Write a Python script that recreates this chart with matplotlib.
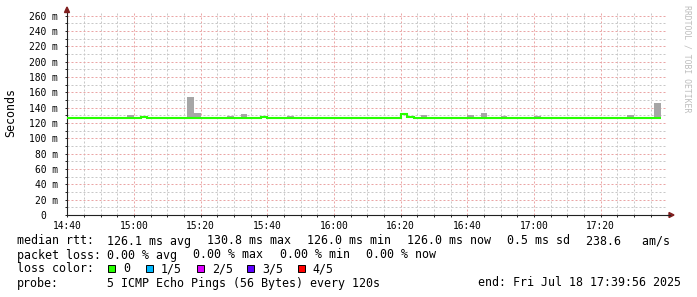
import numpy as np
import matplotlib.pyplot as plt
from matplotlib.patches import Polygon, Rectangle
from matplotlib.lines import Line2D
from matplotlib.ticker import MultipleLocator, FuncFormatter

# 2-minute steps, step 0 starts at 14:40 (x in minutes after 14:40)
n_steps = 89
median_base = 126.0                      # ms, flat median rtt
median_steps = [11, 29, 50, 51]          # steps where the median moves
median_vals = [127.3, 127.3, 131.3, 127.3]

# grey smoke: top of the ping spread per step (ms)
smoke_steps = [5, 9, 18, 19, 24, 26, 33, 43, 44, 48, 53, 60, 62, 65, 69, 70, 84, 85, 88]
smoke_tops = [128.2, 130.9, 154.4, 133.5, 129.5, 132.2, 129.3, 128.5, 128.5, 128.4,
              131.0, 131.0, 133.6, 129.5, 128.0, 129.5, 130.8, 128.0, 146.5]

time_labels = ['14:40', '15:00', '15:20', '15:40', '16:00', '16:20', '16:40', '17:00', '17:20']

rtt_items = ['126.1 ms avg', '130.8 ms max', '126.0 ms min', '126.0 ms now',
             '0.5 ms sd', '238.6   am/s']
loss_items = ['0.00 % avg', '0.00 % max', '0.00 % min', '0.00 % now']
loss_labels = ['0', '1/5', '2/5', '3/5', '4/5']
loss_colors = ['#26ff00', '#00b8ff', '#dd00ff', '#5e00ff', '#ff0000']

mono = 'DejaVu Sans Mono'
fsize = 8.35
W, H = 697, 297
fx = lambda px: px / W
fy = lambda py: 1 - py / H

fig = plt.figure(figsize=(W / 100, H / 100), dpi=100)
ax = fig.add_axes([fx(67), fy(215), 600 / W, 203 / H])

edges = 2 * np.arange(n_steps + 1)
median = np.full(n_steps, median_base)
median[median_steps] = median_vals

# smoke bars from just under the median line up to the top
for s, top in zip(smoke_steps, smoke_tops):
    ax.bar(edges[s], top - 125.3, bottom=125.3, width=2, align='edge',
           color='#a6a6a6', linewidth=0, zorder=2)

ax.stairs(median, edges, color='#26ff00', linewidth=1.5, baseline=None, zorder=3)

ax.set_xlim(-4 / 60, 180 - 4 / 60)
ax.set_ylim(0, 265)

ax.xaxis.set_major_locator(MultipleLocator(20))
ax.xaxis.set_minor_locator(MultipleLocator(5))
ax.xaxis.set_major_formatter(FuncFormatter(
    lambda v, p: time_labels[int(round(v / 20))] if 0 <= round(v / 20) < len(time_labels) else ''))
ax.yaxis.set_major_locator(MultipleLocator(20))
ax.yaxis.set_minor_locator(MultipleLocator(10))
ax.yaxis.set_major_formatter(FuncFormatter(lambda v, p: '0  ' if v == 0 else f'{int(v)} m'))

# dotted rrdtool-style grid
ax.set_axisbelow(True)
ax.grid(which='major', color='#eaa5a5', linestyle=(0, (2, 2)), linewidth=0.72)
ax.grid(which='minor', color='#c8c8c8', linestyle=(0, (2, 2)), linewidth=0.72)

for side in ['top', 'right']:
    ax.spines[side].set_visible(False)
for side in ['left', 'bottom']:
    ax.spines[side].set_color('#212121')
    ax.spines[side].set_linewidth(0.8)

ax.tick_params(which='both', length=1.5, width=0.7, color='#212121',
               labelsize=6.9, labelcolor='#000000')
ax.tick_params(axis='y', pad=5)
ax.tick_params(axis='x', pad=2.5)
for lab in ax.get_xticklabels() + ax.get_yticklabels():
    lab.set_family(mono)

# axis arrows
fig.add_artist(Line2D([fx(667), fx(670)], [fy(215), fy(215)], color='#212121', lw=0.8))
fig.add_artist(Polygon([(fx(67), fy(7)), (fx(64.5), fy(12.5)), (fx(69.5), fy(12.5))],
                       closed=True, color='#801f1f', transform=fig.transFigure))
fig.add_artist(Polygon([(fx(674), fy(215)), (fx(669), fy(212.5)), (fx(669), fy(217.5))],
                       closed=True, color='#801f1f', transform=fig.transFigure))

fig.text(fx(11), fy(113), 'Seconds', rotation=90, ha='center', va='center',
         fontsize=fsize, family=mono)
fig.text(fx(687), fy(59), 'RRDTOOL / TOBI OETIKER', rotation=270, ha='center', va='center',
         fontsize=5.9, family=mono, color='#bdbdbd')

char_w = 6.95   # px per monospace character
gap = 16.6      # px between legend items

def put(x, y, s):
    fig.text(fx(x), fy(y), s, fontsize=fsize, family=mono, ha='left', va='center')

def row(y, label, items):
    put(16.7, y, label)
    x = 107.3
    for s in items:
        put(x, y, s)
        x += len(s) * char_w + gap

row(241, 'median rtt:', rtt_items)
row(255, 'packet loss:', loss_items)
put(16.7, 269, 'loss color:')
box_x = [108.3, 145.7, 196.7, 247.3, 297.7]
for bx, lab, col in zip(box_x, loss_labels, loss_colors):
    fig.add_artist(Rectangle((fx(bx), fy(272)), 7 / W, 7 / H, facecolor=col,
                             edgecolor='black', linewidth=0.7, transform=fig.transFigure))
    put(bx + 15, 269, lab)
put(16.7, 283, 'probe:')
put(107.3, 283, '5 ICMP Echo Pings (56 Bytes) every 120s')
put(478.3, 283, 'end: Fri Jul 18 17:39:56 2025')

fig.savefig('out.png', dpi=100, facecolor='white')
